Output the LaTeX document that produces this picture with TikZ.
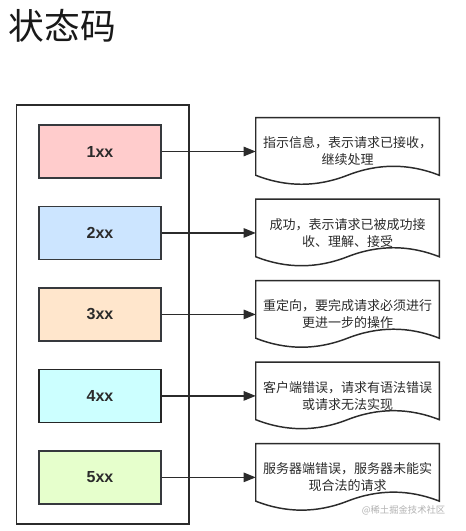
\documentclass[tikz,border=0pt]{standalone}
\usepackage{fontspec}
\setmainfont{Liberation Sans}
\newfontfamily\cjk{Noto Sans CJK SC}
\usepackage{xcolor}
\usetikzlibrary{arrows.meta,backgrounds,calc,fit,positioning}
\definecolor{edgegray}{HTML}{36393D}
\definecolor{textgray}{HTML}{2B2B2B}
\definecolor{infopink}{HTML}{FFCCCC}
\definecolor{okblue}{HTML}{CCE5FF}
\definecolor{movepeach}{HTML}{FFE6CC}
\definecolor{clientcyan}{HTML}{CCFFFF}
\definecolor{servergreen}{HTML}{E6FFCC}

\begin{document}
\begin{tikzpicture}[
    x=0.75pt,y=-0.75pt,
    statusbox/.style={draw=edgegray,line width=1.1pt,minimum width=91.5pt,
      minimum height=39.75pt,font=\bfseries\fontsize{12}{14}\selectfont,
      text=textgray},
    docbox/.style={minimum width=137.25pt,minimum height=50.25pt,inner sep=0pt,
      align=center,font=\cjk\fontsize{9.75}{12.75}\selectfont,text=textgray},
    docline/.style={draw=textgray,line width=1.1pt,fill=white},
    frame/.style={draw=textgray,line width=1.1pt,inner xsep=18.4pt,inner ysep=14.6pt},
    pointer/.style={-{Triangle[length=9pt,width=7pt]},line width=1.1pt,textgray},
    note/.style={font=\cjk\fontsize{7}{8}\selectfont,text=black!30}
  ]
    \useasboundingbox (0,0) rectangle (465,531);

    \node[anchor=west,font=\cjk\fontsize{26.8}{30}\selectfont,text=black!90] (title)
      at (4,26) {状态码};

    \node[statusbox,fill=infopink] (b1) at (100,151.5) {1xx};
    \node[statusbox,fill=okblue,below=20.25pt of b1] (b2) {2xx};
    \node[statusbox,fill=movepeach,below=20.25pt of b2] (b3) {3xx};
    \node[statusbox,fill=clientcyan,draw=black!85,below=20.25pt of b3] (b4) {4xx};
    \node[statusbox,fill=servergreen,below=20.25pt of b4] (b5) {5xx};

    \node[frame,fit=(b1)(b5),xshift=1.9pt] (group) {};

    \node[docbox,right=70.5pt of b1] (d1) {指示信息，表示请求已接收，\\继续处理};
    \node[docbox,right=70.5pt of b2] (d2) {成功，表示请求已被成功接\\收、理解、接受};
    \node[docbox,right=70.5pt of b3] (d3) {重定向，要完成请求必须进行\\更进一步的操作};
    \node[docbox,right=70.5pt of b4] (d4) {客户端错误，请求有语法错误\\或请求无法实现};
    \node[docbox,right=70.5pt of b5] (d5) {服务器端错误，服务器未能实\\现合法的请求};

    % wavy document outline behind each text
    \begin{scope}[on background layer]
      \fill[white] (0,0) rectangle (465,531);
      \foreach \d in {d1,d2,d3,d4,d5}
        \draw[docline] (\d.north west) -- (\d.north east) -- ($(\d.south east)+(0,-10)$)
          .. controls ($(\d.south east)+(-30.5,-22)$) and ($(\d.south east)+(-61,-22)$)
          .. ($(\d.south)+(0,-10)$)
          .. controls ($(\d.south west)+(61,2)$) and ($(\d.south west)+(30.5,2)$)
          .. ($(\d.south west)+(0,-10)$) -- cycle;
    \end{scope}

    \draw[pointer] (b1) -- (d1);
    \draw[pointer] (b2) -- (d2);
    \draw[pointer] (b3) -- (d3);
    \draw[pointer] (b4) -- (d4);
    \draw[pointer] (b5) -- (d5);

    \node[note,anchor=east] (mark) at (450,510) {@稀土掘金技术社区};
  \end{tikzpicture}
\end{document}
